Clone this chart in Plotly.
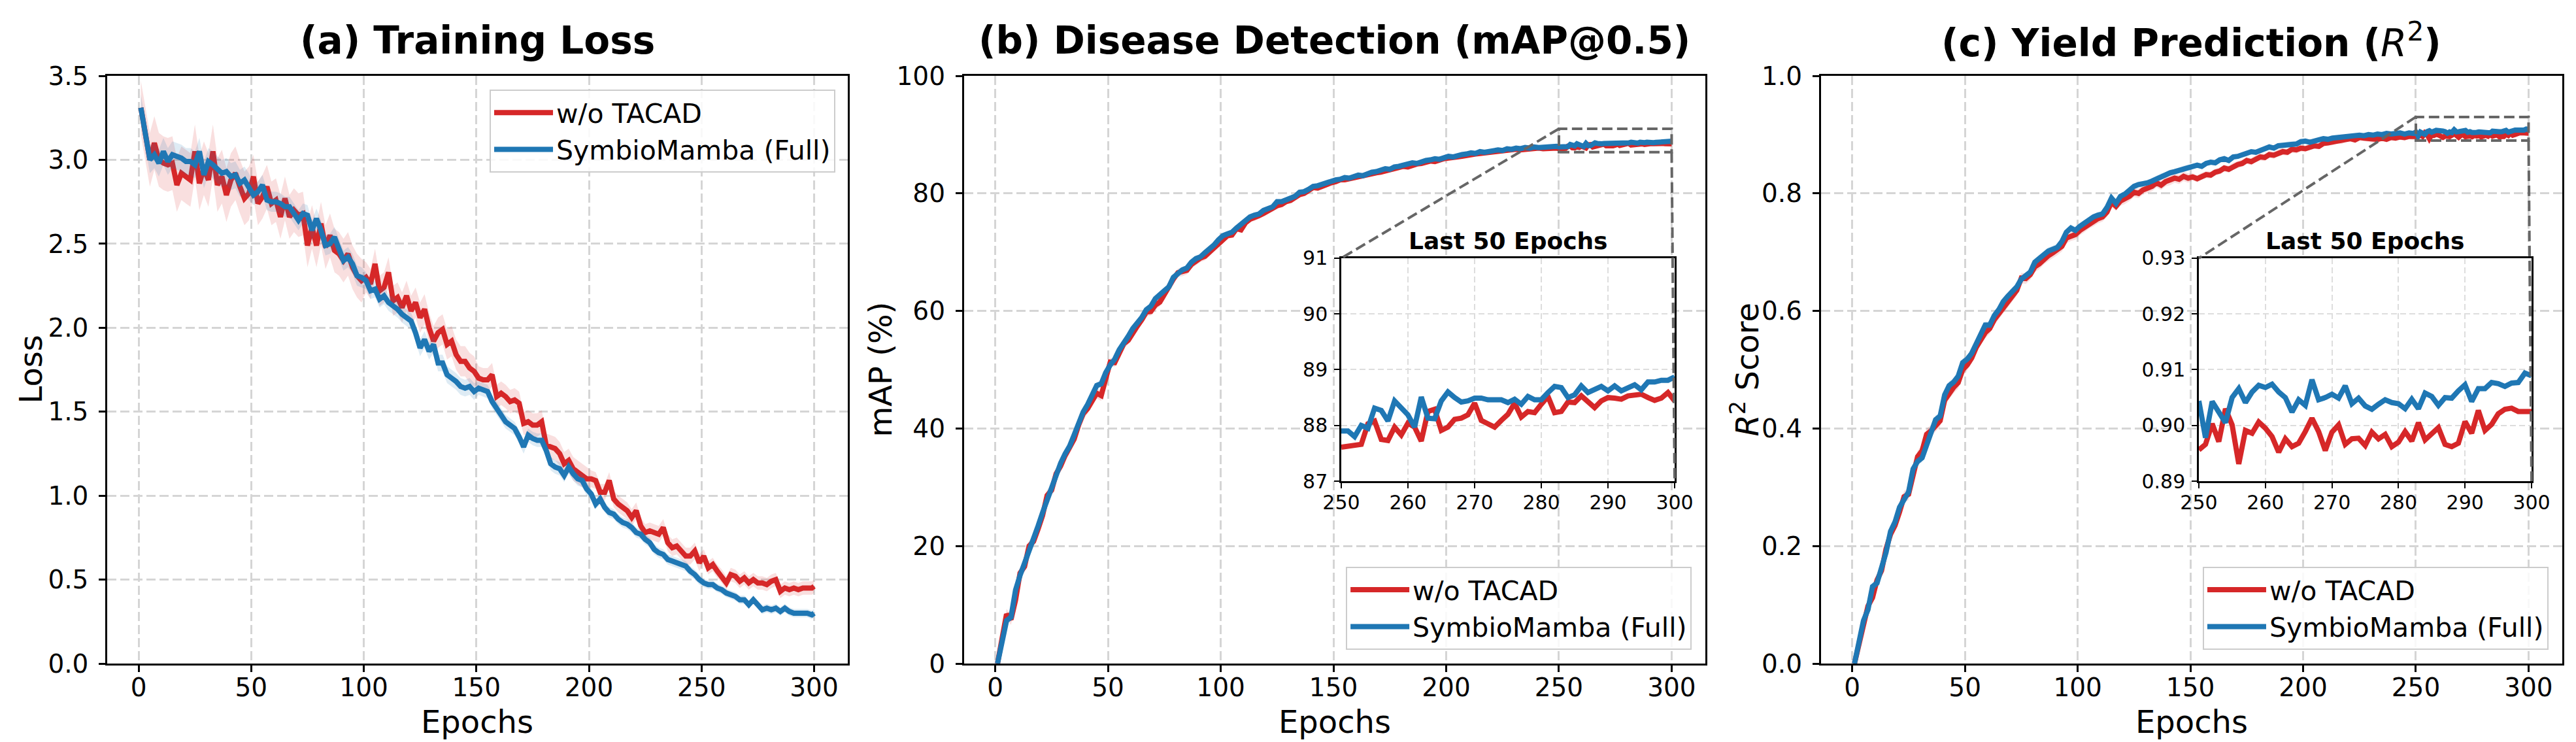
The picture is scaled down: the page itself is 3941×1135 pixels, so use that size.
import numpy as np
import plotly.graph_objects as go

RED = '#d62728'
BLUE = '#1f77b4'

# ---------------- data ----------------
epochs_loss = list(range(1, 300, 2)) + [300]
loss_wo = [3.31, 3.15, 3.00, 3.10, 3.00, 2.98, 2.97, 2.98, 2.85, 2.92,
           2.90, 2.88, 3.05, 2.86, 2.95, 2.88, 3.05, 2.85, 2.90, 2.79,
           2.88, 2.92, 2.84, 2.77, 2.80, 2.90, 2.74, 2.78, 2.84, 2.74,
           2.76, 2.66, 2.77, 2.66, 2.70, 2.67, 2.68, 2.49, 2.60, 2.49,
           2.62, 2.48, 2.55, 2.46, 2.44, 2.40, 2.44, 2.36, 2.31, 2.28,
           2.30, 2.26, 2.38, 2.22, 2.24, 2.33, 2.16, 2.18, 2.12, 2.19,
           2.10, 2.15, 2.06, 2.11, 2.00, 1.92, 1.97, 1.99, 1.90, 1.92,
           1.84, 1.80, 1.80, 1.76, 1.74,
           1.70, 1.69, 1.69, 1.72, 1.59, 1.61, 1.59, 1.56, 1.57, 1.55,
           1.43, 1.44, 1.42, 1.42, 1.44, 1.30, 1.29, 1.28, 1.25, 1.19,
           1.21, 1.16, 1.14, 1.12, 1.10, 1.10, 1.09, 1.02, 1.02, 1.09,
           0.98, 0.95, 0.93, 0.91, 0.87, 0.91, 0.82, 0.78, 0.79, 0.78,
           0.77, 0.81, 0.72, 0.69, 0.70, 0.67, 0.64, 0.64, 0.67, 0.60,
           0.64, 0.57, 0.59, 0.55, 0.52, 0.48, 0.53, 0.52, 0.49, 0.51,
           0.48, 0.50, 0.48, 0.48, 0.47, 0.49, 0.50, 0.43, 0.45, 0.44,
           0.45, 0.44, 0.45, 0.45, 0.45, 0.46]
loss_full = [3.31, 3.16, 3.00, 3.03, 2.98, 3.05, 2.99, 3.03, 3.02, 3.01,
             2.99, 2.99, 2.97, 3.05, 2.91, 2.99, 2.97, 2.94, 2.92, 2.93,
             2.90, 2.91, 2.86, 2.88, 2.84, 2.79, 2.81, 2.85, 2.76, 2.75,
             2.75, 2.74, 2.72, 2.72, 2.68, 2.64, 2.68, 2.67, 2.58, 2.65,
             2.58, 2.49, 2.50, 2.54, 2.47, 2.40, 2.42, 2.38, 2.31, 2.30,
             2.28, 2.22, 2.23, 2.17, 2.19, 2.15, 2.13, 2.11, 2.08, 2.06,
             2.04, 1.97, 1.88, 1.93, 1.86, 1.90, 1.79, 1.79, 1.72, 1.70,
             1.68, 1.65, 1.64, 1.65, 1.62,
             1.64, 1.63, 1.62, 1.56, 1.52, 1.48, 1.44, 1.42, 1.40, 1.35,
             1.29, 1.36, 1.34, 1.33, 1.33, 1.27, 1.19, 1.17, 1.16, 1.12,
             1.17, 1.13, 1.10, 1.09, 1.04, 1.01, 0.95, 0.98, 0.93, 0.90,
             0.89, 0.86, 0.84, 0.83, 0.81, 0.78, 0.77, 0.74, 0.72, 0.68,
             0.66, 0.65, 0.62, 0.61, 0.60, 0.59, 0.58, 0.55, 0.53, 0.50,
             0.48, 0.47, 0.47, 0.45, 0.44, 0.42, 0.41, 0.40, 0.38, 0.38,
             0.35, 0.38, 0.35, 0.32, 0.33, 0.32, 0.33, 0.31, 0.33, 0.31,
             0.30, 0.30, 0.30, 0.30, 0.29, 0.30]

epochs_early = list(range(1, 250, 2))
epochs_last = list(range(250, 301))

map_wo_early = [0.0, 4.5, 8.4, 7.5, 10.8, 15.4, 16.5, 20.0, 20.8, 22.9,
                25.2, 28.6, 29.5, 32.3, 33.6, 35.4, 36.6, 38.2, 40.6, 42.5,
                43.4, 44.8, 46.0, 45.6, 48.7, 51.3, 51.2, 52.6, 54.4, 55.0,
                56.4, 57.4, 58.5, 59.8, 59.9, 61.0, 61.5, 62.9, 64.0, 65.4,
                66.5, 66.6, 66.9, 67.9, 68.5, 69.0, 69.3, 70.0, 70.9, 71.6,
                72.2, 72.8, 72.9, 74.0, 73.8, 75.0, 75.6, 75.8, 76.2, 76.6,
                77.1, 77.4, 77.9, 78.1, 78.6, 78.8, 79.3, 79.8, 80.0, 80.4,
                81.0, 80.9, 81.2, 81.7, 81.8,
                82.0, 82.3, 82.3, 82.5, 82.6, 82.8, 82.9, 83.1, 83.3, 83.5,
                83.6, 83.8, 84.0, 84.1, 84.3, 84.6, 84.5, 84.8, 85.0, 85.1,
                85.3, 85.5, 85.4, 85.7, 85.9, 86.0, 86.0, 86.2, 86.3, 86.5,
                86.6, 86.7, 86.8, 86.9, 87.0, 87.0, 87.2, 87.3, 87.2, 87.4,
                87.5, 87.4, 87.5, 87.6, 87.5, 87.7, 87.6, 87.7, 87.6, 87.7]
map_full_early = [0.0, 4.1, 7.3, 7.9, 12.5, 15.0, 17.0, 18.9, 21.2, 23.4,
                  25.7, 27.9, 29.9, 31.8, 34.1, 35.7, 37.0, 38.9, 41.2, 42.8,
                  44.1, 45.7, 47.3, 47.6, 49.5, 50.8, 51.8, 53.4, 54.4, 55.7,
                  57.0, 57.9, 58.9, 60.2, 60.8, 62.1, 62.8, 63.4, 64.1, 65.7,
                  66.3, 67.0, 67.3, 68.3, 68.9, 69.2, 69.9, 70.5, 71.2, 72.1,
                  72.8, 73.1, 73.4, 74.1, 74.7, 75.4, 76.0, 76.3, 76.5, 77.1,
                  77.3, 77.7, 78.6, 78.6, 78.9, 79.1, 79.5, 80.2, 80.3, 80.7,
                  81.2, 81.3, 81.6, 81.9, 82.1,
                  82.3, 82.4, 82.7, 82.6, 82.9, 83.1, 83.0, 83.4, 83.6, 83.7,
                  83.9, 84.2, 84.1, 84.5, 84.6, 84.8, 84.9, 85.2, 85.1, 85.4,
                  85.6, 85.7, 85.9, 85.8, 86.1, 86.3, 86.2, 86.5, 86.6, 86.7,
                  86.9, 86.8, 87.1, 87.0, 87.2, 87.3, 87.4, 87.3, 87.6, 87.5,
                  87.7, 87.6, 87.8, 87.7, 87.9, 87.8, 87.9, 88.0, 87.9, 88.0]
map_wo_last = [87.61, 87.62, 87.65, 87.66, 88.03, 88.08, 87.75, 87.73, 87.97, 87.83,
               88.04, 87.97, 87.72, 88.25, 88.29, 87.91, 87.97, 88.11, 88.13, 88.19,
               88.40, 88.09, 88.03, 87.97, 88.09, 88.20, 88.40, 88.15, 88.25, 88.23,
               88.38, 88.52, 88.23, 88.25, 88.42, 88.41, 88.53, 88.42, 88.32, 88.44,
               88.50, 88.49, 88.47, 88.53, 88.54, 88.56, 88.50, 88.45, 88.49, 88.59,
               88.44]
map_full_last = [87.90, 87.90, 87.80, 88.00, 87.95, 88.31, 88.27, 88.08, 88.44, 88.32,
                 88.19, 87.97, 88.51, 88.13, 88.12, 88.44, 88.60, 88.50, 88.42, 88.44,
                 88.49, 88.49, 88.46, 88.46, 88.46, 88.41, 88.47, 88.38, 88.52, 88.46,
                 88.46, 88.59, 88.70, 88.68, 88.50, 88.55, 88.71, 88.59, 88.64, 88.70,
                 88.62, 88.71, 88.62, 88.68, 88.73, 88.64, 88.78, 88.78, 88.81, 88.81,
                 88.87]

r2_wo_early = [0.000, 0.030, 0.068, 0.098, 0.112, 0.142, 0.158, 0.195, 0.220, 0.235,
               0.258, 0.284, 0.288, 0.322, 0.352, 0.362, 0.390, 0.396, 0.405, 0.413,
               0.448, 0.460, 0.470, 0.478, 0.500, 0.508, 0.520, 0.538, 0.552, 0.563,
               0.570, 0.585, 0.595, 0.605, 0.615, 0.625, 0.635, 0.656, 0.655, 0.662,
               0.675, 0.680, 0.688, 0.694, 0.699, 0.704, 0.710, 0.724, 0.728, 0.730,
               0.737, 0.742, 0.748, 0.752, 0.757, 0.760, 0.768, 0.785, 0.778, 0.787,
               0.790, 0.795, 0.802, 0.800, 0.806, 0.809, 0.812, 0.818, 0.814, 0.820,
               0.822, 0.826, 0.824, 0.829, 0.826,
               0.828, 0.825, 0.829, 0.832, 0.831, 0.836, 0.838, 0.843, 0.841, 0.846,
               0.849, 0.851, 0.856, 0.854, 0.859, 0.862, 0.861, 0.866, 0.865, 0.869,
               0.871, 0.870, 0.875, 0.874, 0.877, 0.876, 0.879, 0.881, 0.880, 0.885,
               0.886, 0.887, 0.890, 0.889, 0.892, 0.893, 0.891, 0.895, 0.894, 0.893,
               0.891, 0.892, 0.894, 0.892, 0.895, 0.894, 0.896, 0.895, 0.897, 0.896]
r2_full_early = [0.000, 0.034, 0.073, 0.092, 0.131, 0.137, 0.163, 0.189, 0.225, 0.241,
                 0.266, 0.279, 0.292, 0.331, 0.344, 0.350, 0.373, 0.392, 0.415, 0.421,
                 0.457, 0.473, 0.479, 0.489, 0.512, 0.518, 0.528, 0.544, 0.560, 0.576,
                 0.576, 0.592, 0.602, 0.616, 0.625, 0.634, 0.641, 0.654, 0.660, 0.666,
                 0.683, 0.689, 0.695, 0.702, 0.705, 0.708, 0.718, 0.734, 0.741, 0.737,
                 0.744, 0.750, 0.754, 0.760, 0.763, 0.765, 0.776, 0.792, 0.783, 0.795,
                 0.799, 0.805, 0.812, 0.815, 0.816, 0.818, 0.821, 0.825, 0.829, 0.831,
                 0.835, 0.837, 0.839, 0.842, 0.844,
                 0.845, 0.848, 0.846, 0.851, 0.853, 0.852, 0.857, 0.859, 0.856, 0.862,
                 0.863, 0.866, 0.867, 0.871, 0.870, 0.874, 0.876, 0.879, 0.877, 0.881,
                 0.882, 0.884, 0.885, 0.884, 0.888, 0.889, 0.887, 0.890, 0.891, 0.893,
                 0.892, 0.894, 0.895, 0.894, 0.897, 0.896, 0.898, 0.899, 0.898, 0.900,
                 0.899, 0.901, 0.900, 0.902, 0.901, 0.902, 0.903, 0.901, 0.903, 0.902]
r2_wo_last = [0.8956, 0.8966, 0.9003, 0.8971, 0.9030, 0.9001, 0.8931, 0.8991, 0.8986, 0.9006,
              0.8995, 0.8980, 0.8952, 0.8976, 0.8962, 0.8968, 0.8989, 0.9013, 0.8989, 0.8955,
              0.8988, 0.9001, 0.8966, 0.8976, 0.8977, 0.8964, 0.8988, 0.8976, 0.8984, 0.8962,
              0.8970, 0.8989, 0.8972, 0.9005, 0.8974, 0.8984, 0.8996, 0.8966, 0.8962, 0.8968,
              0.9007, 0.8986, 0.9027, 0.8991, 0.9002, 0.9021, 0.9029, 0.9031, 0.9025, 0.9025,
              0.9025]
r2_full_last = [0.9044, 0.8978, 0.9043, 0.9023, 0.9005, 0.9050, 0.9066, 0.9041, 0.9060, 0.9072,
                0.9068, 0.9074, 0.9060, 0.9050, 0.9024, 0.9046, 0.9036, 0.9082, 0.9046, 0.9050,
                0.9056, 0.9049, 0.9071, 0.9039, 0.9049, 0.9035, 0.9029, 0.9038, 0.9046, 0.9041,
                0.9039, 0.9030, 0.9047, 0.9030, 0.9058, 0.9052, 0.9036, 0.9050, 0.9049, 0.9062,
                0.9073, 0.9043, 0.9066, 0.9066, 0.9077, 0.9075, 0.9070, 0.9076, 0.9077, 0.9094,
                0.9089]

# spread (std) of the shaded bands, one value per 50-epoch block
loss_std_wo = [0.16, 0.13, 0.09, 0.07, 0.05, 0.04]
loss_std_full = [0.08, 0.06, 0.05, 0.04, 0.03, 0.025]
map_std_wo = [0.9, 0.7, 0.5, 0.4, 0.3, 0.3]
map_std_full = [0.6, 0.5, 0.4, 0.3, 0.25, 0.2]
r2_std_wo = [0.010, 0.009, 0.008, 0.006, 0.005, 0.004]
r2_std_full = [0.007, 0.006, 0.005, 0.004, 0.003, 0.003]

epochs_main = epochs_early + epochs_last
map_wo = map_wo_early + map_wo_last
map_full = map_full_early + map_full_last
r2_wo = r2_wo_early + r2_wo_last
r2_full = r2_full_early + r2_full_last

# ---------------- layout geometry ----------------
W, H = 3941, 1135
ML, MR, MT, MB = 156, 29, 108, 128
PW = W - ML - MR
PH = H - MT - MB

dom_a = [0.0, 0.30165]
dom_b = [0.34891, 0.65096]
dom_c = [0.69797, 1.0]
ins_b = [0.50266, 0.63845]
ins_c = [0.85197, 0.98749]
ins_y = [0.3103, 0.6897]
xrng = [-13.95, 314.95]

FONT = 'DejaVu Sans'
GRID = '#d5d5d5'
LW = 8


def band(x, y, std_blocks):
    idx = np.minimum(np.array(x) // 50, len(std_blocks) - 1)
    s = np.array(std_blocks)[idx]
    y = np.array(y)
    up = y + s
    lo = y - s
    return list(x) + list(x)[::-1], list(up) + list(lo)[::-1]


def to_paper(xv, yv, xdom, xr, ydom, yr):
    px = xdom[0] + (xv - xr[0]) / (xr[1] - xr[0]) * (xdom[1] - xdom[0])
    py = ydom[0] + (yv - yr[0]) / (yr[1] - yr[0]) * (ydom[1] - ydom[0])
    return px, py


fig = go.Figure()


def add_pair(x, y_wo, y_full, std_wo, std_full, xa, ya, legend):
    bx, by = band(x, y_wo, std_wo)
    fig.add_trace(go.Scatter(x=bx, y=by, fill='toself', fillcolor='rgba(214,39,40,0.15)',
                             line=dict(width=0), showlegend=False, hoverinfo='skip',
                             xaxis=xa, yaxis=ya))
    fig.add_trace(go.Scatter(x=x, y=y_wo, mode='lines', name='w/o TACAD',
                             line=dict(color=RED, width=LW), xaxis=xa, yaxis=ya, legend=legend))
    bx, by = band(x, y_full, std_full)
    fig.add_trace(go.Scatter(x=bx, y=by, fill='toself', fillcolor='rgba(31,119,180,0.15)',
                             line=dict(width=0), showlegend=False, hoverinfo='skip',
                             xaxis=xa, yaxis=ya))
    fig.add_trace(go.Scatter(x=x, y=y_full, mode='lines', name='SymbioMamba (Full)',
                             line=dict(color=BLUE, width=LW), xaxis=xa, yaxis=ya, legend=legend))


add_pair(epochs_loss, loss_wo, loss_full, loss_std_wo, loss_std_full, 'x', 'y', 'legend')
add_pair(epochs_main, map_wo, map_full, map_std_wo, map_std_full, 'x2', 'y2', 'legend2')
add_pair(epochs_main, r2_wo, r2_full, r2_std_wo, r2_std_full, 'x3', 'y3', 'legend3')

# insets (last 50 epochs)
fig.add_trace(go.Scatter(x=epochs_last, y=map_wo_last, mode='lines', showlegend=False,
                         line=dict(color=RED, width=LW), xaxis='x4', yaxis='y4'))
fig.add_trace(go.Scatter(x=epochs_last, y=map_full_last, mode='lines', showlegend=False,
                         line=dict(color=BLUE, width=LW), xaxis='x4', yaxis='y4'))
fig.add_trace(go.Scatter(x=epochs_last, y=r2_wo_last, mode='lines', showlegend=False,
                         line=dict(color=RED, width=LW), xaxis='x5', yaxis='y5'))
fig.add_trace(go.Scatter(x=epochs_last, y=r2_full_last, mode='lines', showlegend=False,
                         line=dict(color=BLUE, width=LW), xaxis='x5', yaxis='y5'))

tickfont = dict(family=FONT, size=39, color='black')
insfont = dict(family=FONT, size=30, color='black')


def main_axis(dom, anchor, **kw):
    d = dict(domain=dom, anchor=anchor, showline=True, mirror=True, linecolor='black',
             linewidth=2.5, ticks='outside', ticklen=10, tickwidth=2.5, tickcolor='black',
             showgrid=True, gridcolor=GRID, gridwidth=3, griddash='14px,6px',
             zeroline=False, tickfont=tickfont)
    d.update(kw)
    return d


def inset_axis(dom, anchor, **kw):
    d = dict(domain=dom, anchor=anchor, showline=True, mirror=True, linecolor='black',
             linewidth=2.5, ticks='outside', ticklen=8, tickwidth=2, tickcolor='black',
             showgrid=True, gridcolor='#dddddd', gridwidth=2, griddash='9px,5px',
             zeroline=False, tickfont=insfont)
    d.update(kw)
    return d


xticks = [0, 50, 100, 150, 200, 250, 300]
fig.update_layout(
    xaxis=main_axis(dom_a, 'y', range=xrng, tickvals=xticks, ticklabelstandoff=-10),
    yaxis=main_axis([0, 1], 'x', range=[0, 3.5], dtick=0.5, tickformat='.1f', ticklabelstandoff=8),
    xaxis2=main_axis(dom_b, 'y2', range=xrng, tickvals=xticks, ticklabelstandoff=-10),
    yaxis2=main_axis([0, 1], 'x2', range=[0, 100], dtick=20, ticklabelstandoff=8),
    xaxis3=main_axis(dom_c, 'y3', range=xrng, tickvals=xticks, ticklabelstandoff=-10),
    yaxis3=main_axis([0, 1], 'x3', range=[0, 1.0], dtick=0.2, tickformat='.1f', ticklabelstandoff=8),
    xaxis4=inset_axis(ins_b, 'y4', range=[250, 300], dtick=10, ticklabelstandoff=-4),
    yaxis4=inset_axis(ins_y, 'x4', range=[87, 91], dtick=1, ticklabelstandoff=4),
    xaxis5=inset_axis(ins_c, 'y5', range=[250, 300], dtick=10, ticklabelstandoff=-4),
    yaxis5=inset_axis(ins_y, 'x5', range=[0.89, 0.93], dtick=0.01, tickformat='.2f', ticklabelstandoff=4),
)

legstyle = dict(font=dict(family=FONT, size=41, color='black'), bgcolor='rgba(255,255,255,0.85)',
                bordercolor='#cccccc', borderwidth=2, itemwidth=90, xanchor='right')
fig.update_layout(
    legend=dict(x=0.2966, y=0.9766, yanchor='top', **legstyle),
    legend2=dict(x=0.6454, y=0.0234, yanchor='bottom', **legstyle),
    legend3=dict(x=0.9944, y=0.0234, yanchor='bottom', **legstyle),
)

# titles and axis labels as annotations
ann = []
titles = ['<b>(a) Training Loss</b>', '<b>(b) Disease Detection (mAP@0.5)</b>',
          '<b>(c) Yield Prediction (</b><i>R</i><sup>2</sup><b>)</b>']
for dom, t in zip([dom_a, dom_b, dom_c], titles):
    ann.append(dict(text=t, x=(dom[0] + dom[1]) / 2, y=(MT + PH - 54) / PH, xref='paper', yref='paper',
                    showarrow=False, xanchor='center', yanchor='middle',
                    font=dict(family=FONT, size=58, color='black')))
    ann.append(dict(text='Epochs', x=(dom[0] + dom[1]) / 2, y=(MT + PH - 1096) / PH, xref='paper',
                    yref='paper', showarrow=False, xanchor='center', yanchor='middle',
                    font=dict(family=FONT, size=48, color='black')))
ylabels = [('Loss', 38), ('mAP (%)', 1338), ('<i>R</i><sup>2</sup> Score', 2661)]
for t, px in ylabels:
    ann.append(dict(text=t, x=(px - ML) / PW, y=0.5, xref='paper', yref='paper', textangle=-90,
                    showarrow=False, xanchor='center', yanchor='middle',
                    font=dict(family=FONT, size=48, color='black')))
for dom in [ins_b, ins_c]:
    ann.append(dict(text='<b>Last 50 Epochs</b>', x=(dom[0] + dom[1]) / 2, y=(MT + PH - 360) / PH,
                    xref='paper', yref='paper', showarrow=False, xanchor='center', yanchor='middle',
                    font=dict(family=FONT, size=36, color='black')))
fig.update_layout(annotations=ann)

# zoom rectangles and connector lines
shapes = []
dash_line = dict(color='#666666', width=4, dash='16px,7px')
for xa, ya, dom, ins, yr, ir in [('x2', 'y2', dom_b, ins_b, [0, 100], [87, 91]),
                                 ('x3', 'y3', dom_c, ins_c, [0, 1.0], [0.89, 0.93])]:
    shapes.append(dict(type='rect', xref=xa, yref=ya, x0=250, x1=300, y0=ir[0], y1=ir[1],
                       line=dash_line, layer='above'))
    p1 = to_paper(250, ir[1], dom, xrng, [0, 1], yr)
    shapes.append(dict(type='line', xref='paper', yref='paper', x0=p1[0], y0=p1[1],
                       x1=ins[0], y1=ins_y[1], line=dash_line, layer='above'))
    p2 = to_paper(300, ir[0], dom, xrng, [0, 1], yr)
    shapes.append(dict(type='line', xref='paper', yref='paper', x0=p2[0], y0=p2[1],
                       x1=ins[1], y1=ins_y[0], line=dash_line, layer='above'))
fig.update_layout(shapes=shapes)

fig.update_layout(
    width=W, height=H,
    margin=dict(l=ML, r=MR, t=MT, b=MB, autoexpand=False),
    plot_bgcolor='white', paper_bgcolor='white',
    font=dict(family=FONT, color='black'),
    hovermode=False,
)

fig.write_html('out.html')
